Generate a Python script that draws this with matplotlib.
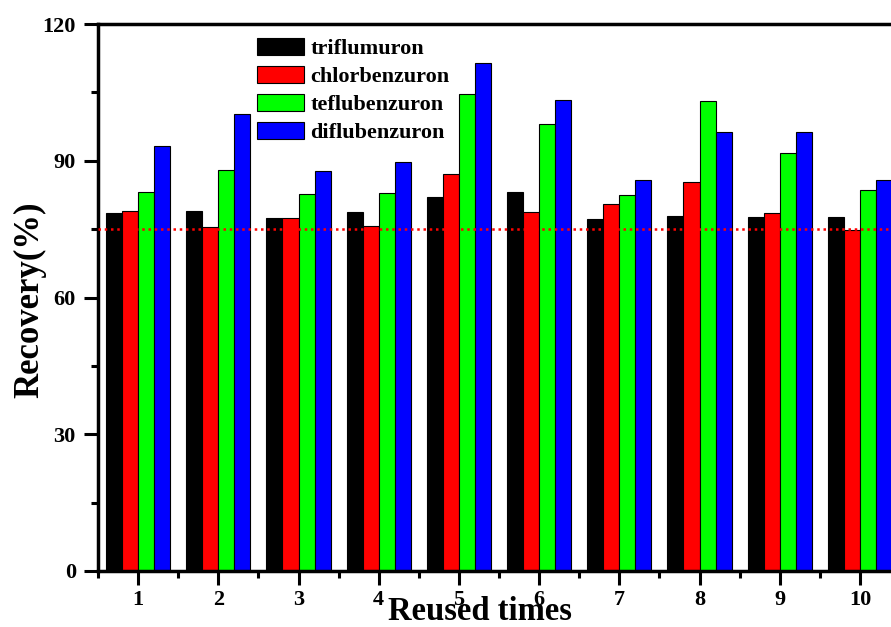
import matplotlib
matplotlib.use("Agg")
import matplotlib.pyplot as plt
from matplotlib.ticker import MultipleLocator
import numpy as np

reuse = [1, 2, 3, 4, 5, 6, 7, 8, 9, 10]
series_names = ["triflumuron", "chlorbenzuron", "teflubenzuron", "diflubenzuron"]
triflumuron = [78.6, 79.0, 77.4, 78.8, 82.1, 83.1, 77.3, 77.8, 77.6, 77.6]
chlorbenzuron = [79.0, 75.4, 77.5, 75.7, 87.0, 78.8, 80.6, 85.4, 78.6, 74.9]
teflubenzuron = [83.1, 88.0, 82.8, 83.0, 104.6, 98.1, 82.5, 103.1, 91.6, 83.6]
diflubenzuron = [93.2, 100.3, 87.8, 89.8, 111.4, 103.3, 85.7, 96.4, 96.4, 85.7]
reference_level = 75
colors = ["#000000", "#ff0000", "#00ff00", "#0000ff"]

plt.rcParams["font.family"] = ["Liberation Serif", "DejaVu Serif"]
plt.rcParams["font.weight"] = "bold"

W, H = 891, 627
fig = plt.figure(figsize=(W / 100, H / 100), dpi=100)
left_px, right_px, top_px, bot_px = 98, 900, 24, 571
ax = fig.add_axes([left_px / W, (H - bot_px) / H, (right_px - left_px) / W, (bot_px - top_px) / H])

x = np.array(reuse, dtype=float)
width = 0.2
data = [triflumuron, chlorbenzuron, teflubenzuron, diflubenzuron]
for i, (name, vals, c) in enumerate(zip(series_names, data, colors)):
    ax.bar(x + (i - 1.5) * width, vals, width, color=c, edgecolor="black",
           linewidth=0.8, label=name, zorder=2)

ax.axhline(reference_level, color="#ff0000", linestyle=(0, (1, 1.5)), linewidth=1.8, zorder=3)

ax.set_xlim(0.5, 10.5)
ax.set_ylim(0, 120)
ax.set_xticks(reuse)
ax.set_xticklabels([str(r) for r in reuse])
ax.xaxis.set_minor_locator(MultipleLocator(0.5))
ax.yaxis.set_major_locator(MultipleLocator(30))
ax.yaxis.set_minor_locator(MultipleLocator(15))

for s in ax.spines.values():
    s.set_linewidth(2.5)
ax.tick_params(axis="both", which="major", direction="out", length=10, width=2.2,
               labelsize=16, pad=6)
ax.tick_params(axis="x", which="major", pad=4)
ax.tick_params(axis="both", which="minor", direction="out", length=5, width=2.2)
for lab in ax.get_xticklabels() + ax.get_yticklabels():
    lab.set_fontweight("bold")

ax.set_ylabel("Recovery(%)", fontsize=25, fontweight="bold", va="center")
ax.yaxis.set_label_coords((30 - left_px) / (right_px - left_px), (bot_px - 300) / (bot_px - top_px))
ax.set_xlabel("Reused times", fontsize=23.5, fontweight="bold", va="baseline")
ax.xaxis.set_label_coords((480 - left_px) / (right_px - left_px), (bot_px - 620) / (bot_px - top_px))

leg = ax.legend(loc="upper left",
                bbox_to_anchor=((257 - left_px) / (right_px - left_px), (bot_px - 38) / (bot_px - top_px)),
                frameon=False, fontsize=16, handlelength=2.1, handleheight=0.8,
                labelspacing=0.3, handletextpad=0.3, borderpad=0, borderaxespad=0)
for t in leg.get_texts():
    t.set_fontweight("bold")

fig.savefig("out.png", dpi=100)
